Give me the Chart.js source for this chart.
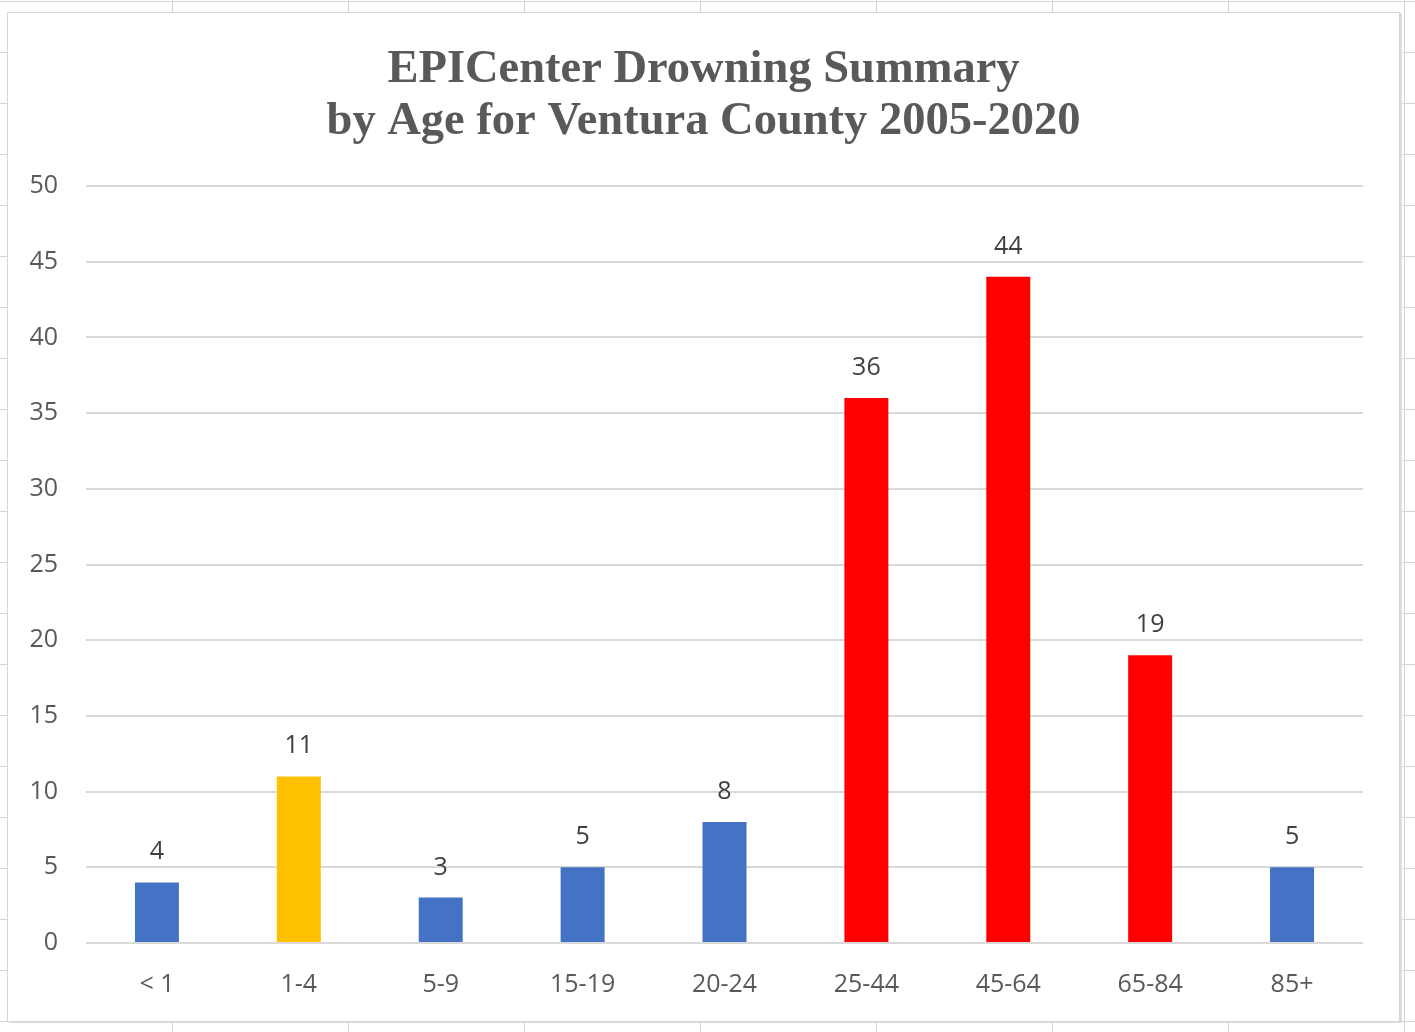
<!DOCTYPE html>
<html>
<head>
<meta charset="utf-8">
<script src="https://cdn.jsdelivr.net/npm/chart.js@4"></script>
<style>
  html, body { margin: 0; padding: 0; }
  body {
    width: 1415px; height: 1032px; overflow: hidden; position: relative;
    background-color: #ffffff;
    background-image:
      linear-gradient(to right, #d4d4d4 1px, transparent 1px),
      linear-gradient(to bottom, #d4d4d4 1px, transparent 1px);
    background-size: 176px 51px;
    background-position: 172px 1px;
  }
  #box {
    position: absolute; left: 7px; top: 12px; width: 1391px; height: 1008px;
    background: #ffffff; border: 1px solid #d6d6d6;
    box-shadow: 2px 1px 0 #dcdcdc;
  }
  #c { position: absolute; left: 0; top: 0; }
</style>
</head>
<body>
<div id="box"></div>
<canvas id="c" width="1415" height="1032"></canvas>
<script>
const categories = ['< 1', '1-4', '5-9', '15-19', '20-24', '25-44', '45-64', '65-84', '85+'];
const deaths = [4, 11, 3, 5, 8, 36, 44, 19, 5];
const barColors = ['#4472C4', '#FFC000', '#4472C4', '#4472C4', '#4472C4', '#FF0000', '#FF0000', '#FF0000', '#4472C4'];
const titleLines = ['EPICenter Drowning Summary', 'by Age for Ventura County 2005-2020'];
const yTicksMax = 50;
const yTicksStep = 5;

const dataLabels = {
  id: 'dataLabels',
  afterDatasetsDraw(chart) {
    const ctx = chart.ctx;
    ctx.save();
    ctx.font = '25px "Open Sans"';
    ctx.fillStyle = '#404040';
    ctx.textAlign = 'center';
    ctx.textBaseline = 'alphabetic';
    chart.getDatasetMeta(0).data.forEach((bar, i) => {
      ctx.fillText(String(chart.data.datasets[0].data[i]), bar.x, bar.y - 23);
    });
    ctx.restore();
  }
};

// Center the title over the whole chart box (like Excel), not just the layout area
const centerTitle = {
  id: 'centerTitle',
  afterLayout(chart) {
    if (chart.titleBlock) {
      chart.titleBlock.left = 7;
      chart.titleBlock.right = 1400;
      chart.titleBlock.width = 1393;
    }
  }
};

new Chart(document.getElementById('c'), {
  type: 'bar',
  data: {
    labels: categories,
    datasets: [{
      data: deaths,
      backgroundColor: barColors,
      borderWidth: 0,
      barPercentage: 0.31,
      categoryPercentage: 1
    }]
  },
  options: {
    responsive: false,
    animation: false,
    devicePixelRatio: 1,
    layout: { padding: { left: 0, right: 52, top: 0, bottom: 0 } },
    plugins: {
      legend: { display: false },
      tooltip: { enabled: false },
      title: {
        display: true,
        text: titleLines,
        color: '#595959',
        font: { family: '"Liberation Serif", "Times New Roman", serif', size: 46.5, weight: 'bold', lineHeight: '52px' },
        padding: { top: 44, bottom: 38 }
      }
    },
    scales: {
      x: {
        grid: { display: false },
        border: { display: false },
        ticks: { color: '#595959', font: { family: '"Open Sans"', size: 25 }, padding: 19 },
        afterFit(scale) { scale.height = 89; }
      },
      y: {
        min: 0,
        max: yTicksMax,
        grid: { color: '#d9d9d9', lineWidth: 2, drawTicks: false },
        border: { display: false },
        ticks: { stepSize: yTicksStep, color: '#595959', font: { family: '"Open Sans"', size: 25 }, padding: 28 },
        afterFit(scale) { scale.width = 86; }
      }
    }
  },
  plugins: [dataLabels, centerTitle]
});
</script>
</body>
</html>
